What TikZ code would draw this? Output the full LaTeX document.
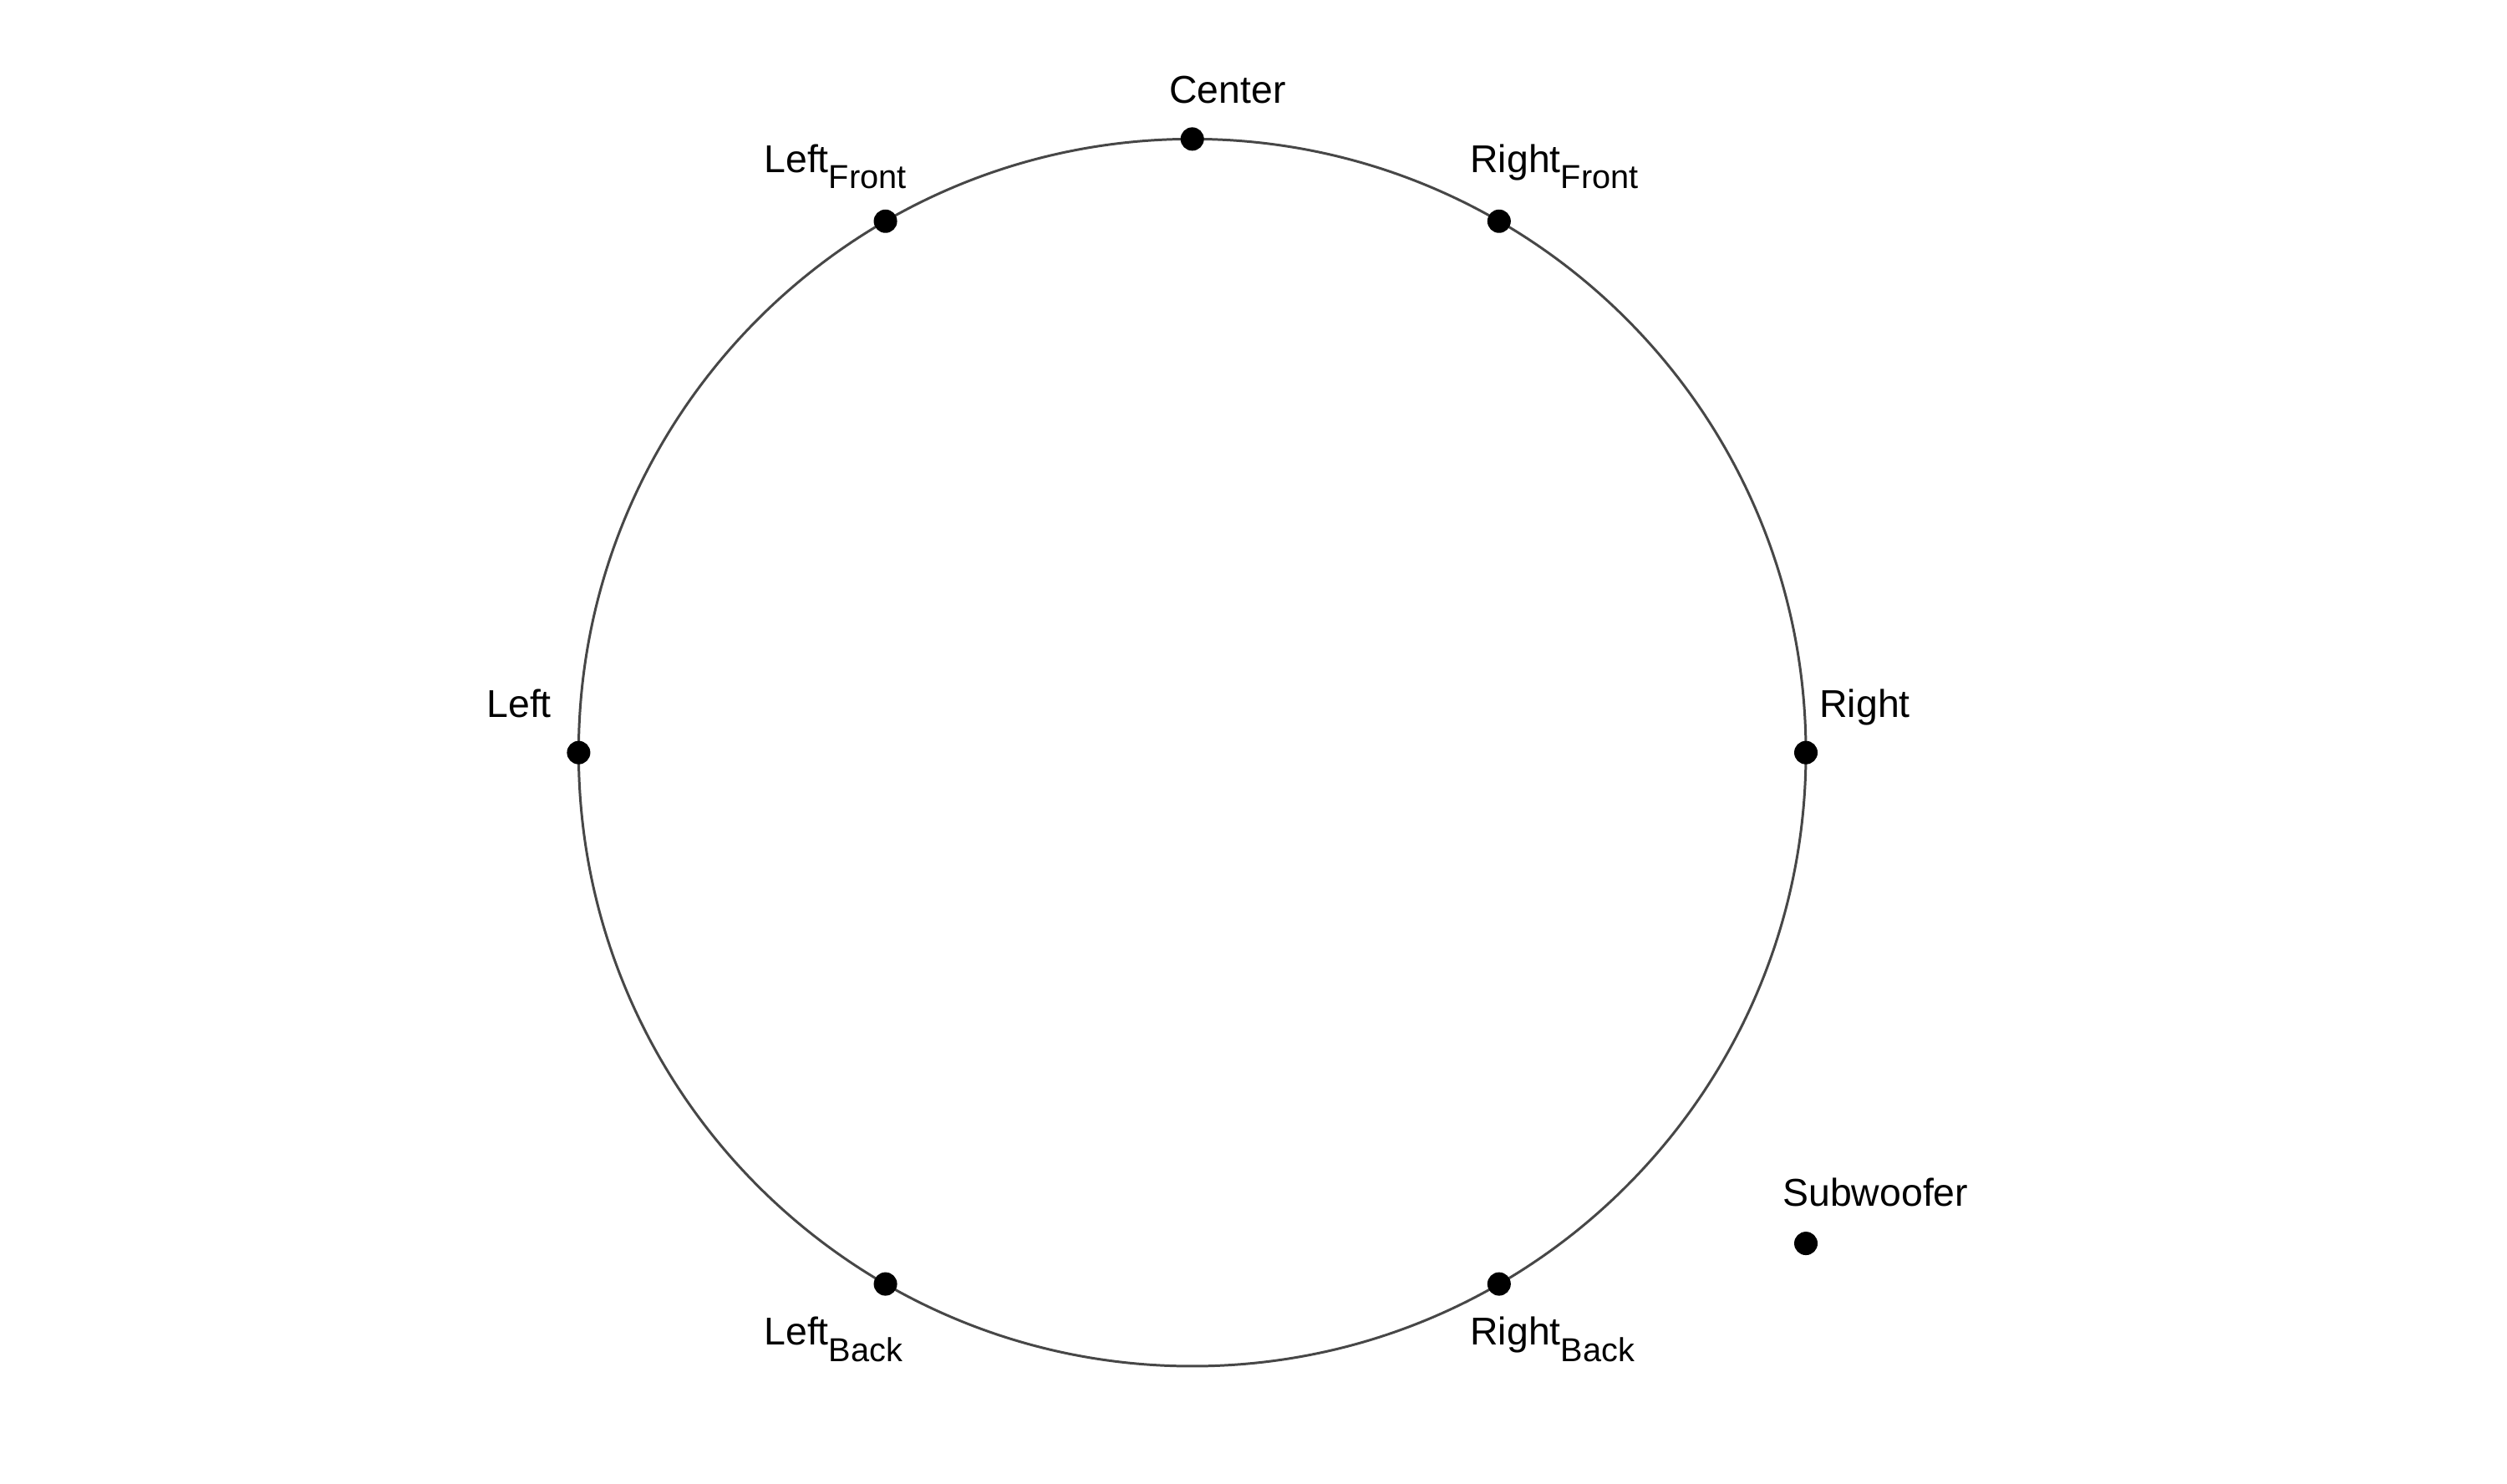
\documentclass[tikz,border=0pt]{standalone}
\usepackage{fontspec}
\setmainfont{Liberation Sans}
\newcommand{\spksub}[1]{\raisebox{-5.5pt}{\fontsize{11.3}{11.3}\selectfont #1}}
\tikzset{
  spk/.style={circle,fill=black,inner sep=0pt,minimum size=0.28cm},
  spklabel/.style={anchor=base west,inner sep=0pt,font=\fontsize{13.2}{13.2}\selectfont}
}
\begin{document}
\begin{tikzpicture}
\useasboundingbox (0,0) rectangle (30,17.76);
\begin{scope}[shift={(14.267,8.753)}]
\draw[line width=0.85pt,black!72] (0,0) circle (7.343);
% speakers on the ring
\node[spk] (center) at (90:7.343) {};
\node[spk] (leftfront) at (120:7.343) {};
\node[spk] (rightfront) at (60:7.343) {};
\node[spk] (left) at (180:7.343) {};
\node[spk] (right) at (0:7.343) {};
\node[spk] (leftback) at (240:7.343) {};
\node[spk] (rightback) at (300:7.343) {};
\node[spk] (sub) at (7.343,-5.874) {};
% labels
\node[spklabel] (centerlab) at (-0.28,7.774) {Center};
\node[spklabel] (leftfrontlab) at (-5.13,6.94) {Left\spksub{Front}};
\node[spklabel] (rightfrontlab) at (3.32,6.94) {Right\spksub{Front}};
\node[spklabel] (leftlab) at (-8.45,0.424) {Left};
\node[spklabel] (rightlab) at (7.50,0.424) {Right};
\node[spklabel] (leftbacklab) at (-5.13,-7.093) {Left\spksub{Back}};
\node[spklabel] (rightbacklab) at (3.32,-7.093) {Right\spksub{Back}};
\node[spklabel] (sublab) at (7.06,-5.426) {Subwoofer};
\end{scope}
\end{tikzpicture}
\end{document}
